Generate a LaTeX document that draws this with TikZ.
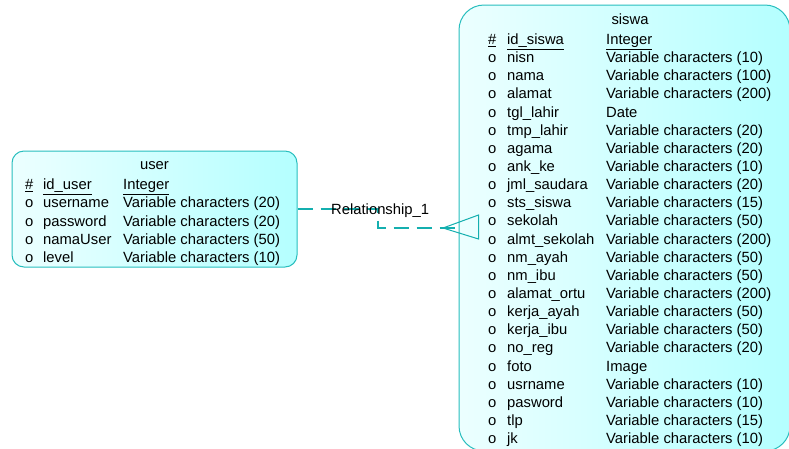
\documentclass[tikz,border=0pt]{standalone}
\usepackage{fontspec}
\setmainfont{Liberation Sans}
\usetikzlibrary{positioning}

\definecolor{erborder}{RGB}{40,190,190}
\definecolor{erline}{RGB}{20,175,175}
\definecolor{erlight}{RGB}{236,255,255}
\definecolor{erdark}{RGB}{180,255,255}

\tikzset{
  entity/.style={draw=erborder, line width=1pt, rounded corners=#1,
    left color=erlight, right color=erdark, inner sep=0pt},
  field/.style={anchor=base west, inner sep=0pt},
  rel/.style={erline, line width=2.5pt, dash pattern=on 15pt off 8pt},
}

\begin{document}
\begin{tikzpicture}[x=1pt, y=-1pt, font=\fontsize{14.8}{17}\selectfont]
\useasboundingbox (0,0) rectangle (789,448);
\clip (0,0) rectangle (789,448);

\node[entity=12pt, minimum width=285pt, minimum height=116pt] (user) at (154.5,209) {};
\node[entity=25pt, minimum width=331pt, minimum height=446pt] (siswa) at (624.5,228) {};

\node[anchor=base] (user-title) at (154.5,169.5) {user};
\node[field] (user-pk) at (25,189.5) {\underline{\#}};
\node[field] (user-id) at (43,189.5) {\underline{id\_user}};
\node[field] (user-idtype) at (123,189.5) {\underline{Integer}};
\foreach \n/\t [count=\i] in {username/Variable characters (20), password/Variable characters (20),
    namaUser/Variable characters (50), level/Variable characters (10)} {
    \node[field] (user-o\i) at (25,189.5+18.25*\i) {o};
    \node[field] (user-n\i) at (43,189.5+18.25*\i) {\n};
    \node[field] (user-t\i) at (123,189.5+18.25*\i) {\t};
};

\node[anchor=base] (siswa-title) at (630,24.5) {siswa};
\node[field] (siswa-pk) at (488,44.5) {\underline{\#}};
\node[field] (siswa-id) at (507,44.5) {\underline{id\_siswa}};
\node[field] (siswa-idtype) at (606,44.5) {\underline{Integer}};
\foreach \n/\t [count=\i] in {nisn/Variable characters (10), nama/Variable characters (100),
    alamat/Variable characters (200), tgl\_lahir/Date, tmp\_lahir/Variable characters (20),
    agama/Variable characters (20), ank\_ke/Variable characters (10),
    jml\_saudara/Variable characters (20), sts\_siswa/Variable characters (15),
    sekolah/Variable characters (50), almt\_sekolah/Variable characters (200),
    nm\_ayah/Variable characters (50), nm\_ibu/Variable characters (50),
    alamat\_ortu/Variable characters (200), kerja\_ayah/Variable characters (50),
    kerja\_ibu/Variable characters (50), no\_reg/Variable characters (20), foto/Image,
    usrname/Variable characters (10), pasword/Variable characters (10),
    tlp/Variable characters (15), jk/Variable characters (10)} {
    \node[field] (siswa-o\i) at (488,44.5+18.14*\i) {o};
    \node[field] (siswa-n\i) at (507,44.5+18.14*\i) {\n};
    \node[field] (siswa-t\i) at (606,44.5+18.14*\i) {\t};
};

\coordinate (rel-bend) at (378,209);
\coordinate (rel-foot) at (443,228);
\draw[rel] (user.east) -- (rel-bend) |- (siswa.west);
\draw[erline, line width=1pt] (rel-foot) -- ([shift={(20,-13)}]siswa.west)
    -- ([shift={(20,11)}]siswa.west) -- cycle;
\node[field] (rel-label) at (331,214) {Relationship\_1};

\end{tikzpicture}
\end{document}
